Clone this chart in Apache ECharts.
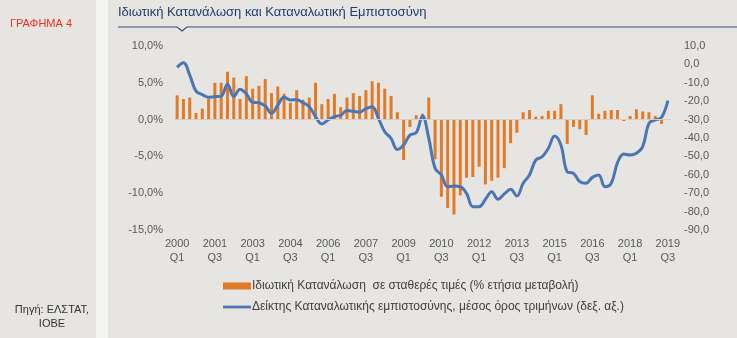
<!DOCTYPE html>
<html>
<head>
<meta charset="utf-8">
<script src="https://cdn.jsdelivr.net/npm/echarts@6/dist/echarts.min.js"></script>
<style>
  html, body { margin: 0; padding: 0; }
  #chart { width: 737px; height: 338px; }
</style>
</head>
<body>
<div id="chart"></div>
<script>
// quarters 2000Q1 .. 2019Q3
var years = [2000, 2001, 2002, 2003, 2004, 2005, 2006, 2007, 2008, 2009,
  2010, 2011, 2012, 2013, 2014, 2015, 2016, 2017, 2018, 2019]
var quarters = ['Q1', 'Q2', 'Q3', 'Q4']
var categories = []
years.forEach(function (y) {
  quarters.forEach(function (q) {
    if (y === 2019 && q === 'Q4') return
    categories.push(y + '\n' + q)
  })
})

// private consumption, constant prices (% y/y) - left axis
var consumption = [
  3.3, 2.8, 3.0, 0.9, 1.5, 2.8, 5.0, 5.0, 6.5, 5.7,
  2.8, 5.9, 4.2, 4.6, 5.5, 3.6, 4.5, 3.5, 2.3, 4.0,
  2.7, 3.0, 5.0, 2.1, 2.8, 3.5, 1.7, 3.0, 3.6, 3.2,
  4.0, 5.2, 5.0, 4.2, 3.2, 1.0, -5.5, -1.0, 0.6, 0.8,
  3.0, -5.4, -10.5, -12.0, -12.9, -10.3, -7.9, -7.8, -6.4, -8.8,
  -8.3, -7.9, -6.6, -3.2, -1.8, 1.0, 1.3, 0.4, 0.5, 1.2,
  1.2, 2.1, -3.3, -1.0, -1.3, -2.1, 3.3, 0.8, 1.2, 1.3,
  1.3, -0.2, 0.5, 1.4, 1.1, 1.0, 0.5, -0.6, null
]

// consumer confidence, quarterly average - right axis
var confidence = [
  -1.6, 0.9, -5.8, -14.5, -16.4, -17.9, -17.5, -17.2, -10.8, -17.5,
  -13.5, -16.1, -20.6, -20.8, -22.6, -26.6, -22.1, -17.9, -19.3, -19.2,
  -20.8, -23.0, -28.4, -32.4, -30.2, -28.4, -27.7, -25.1, -25.5, -25.9,
  -24.1, -23.0, -29.3, -36.6, -40.2, -46.2, -43.8, -38.4, -37.1, -28.0,
  -40.2, -56.5, -60.1, -66.5, -66.1, -66.5, -70.1, -77.3, -77.3, -73.3,
  -69.2, -73.3, -70.4, -67.9, -71.5, -64.6, -60.1, -52.0, -50.2, -45.6,
  -38.9, -43.8, -58.3, -59.2, -63.7, -64.6, -61.4, -60.1, -66.5, -64.6,
  -53.4, -48.7, -49.2, -48.3, -44.7, -32.0, -30.2, -28.8, -19.7
]

var leftTicks = { min: -15, max: 10, interval: 5 }
var rightTicks = { min: -90, max: 10, interval: 10 }

var nameBar = 'Ιδιωτική Κατανάλωση  σε σταθερές τιμές (% ετήσια μεταβολή)'
var nameLine = 'Δείκτης Καταναλωτικής εμπιστοσύνης, μέσος όρος τριμήνων (δεξ. αξ.)'

var labelColor = '#595959'
var fontMain = 'Liberation Sans, Arial, sans-serif'

var myChart = echarts.init(document.getElementById('chart'))
myChart.setOption({
  backgroundColor: '#e6e5e1',
  animation: false,
  graphic: [
    {
      type: 'rect',
      shape: { x: 96, y: 0, width: 12, height: 338 },
      style: { fill: '#f4f4f2' },
      silent: true
    },
    {
      type: 'text',
      left: 10,
      top: 18,
      style: { text: 'ΓΡΑΦΗΜΑ 4', fill: '#e8311f', font: '11px ' + fontMain }
    },
    {
      type: 'text',
      left: 118,
      top: 6,
      style: { text: 'Ιδιωτική Κατανάλωση και Καταναλωτική Εμπιστοσύνη', fill: '#1f3d6e', font: '13px ' + fontMain }
    },
    {
      type: 'polyline',
      shape: { points: [[118, 27], [177, 27], [182, 31], [187, 27], [737, 27]] },
      style: { stroke: '#2f4f7f', lineWidth: 1.2, fill: null },
      silent: true
    },
    {
      type: 'text',
      x: 52,
      y: 303,
      style: { text: 'Πηγή: ΕΛΣΤΑΤ,\nΙΟΒΕ', fill: '#333333', font: '11px ' + fontMain, align: 'center', lineHeight: 14 }
    }
  ],
  grid: {
    left: 174,
    right: 66,
    top: 46,
    bottom: 108
  },
  legend: {
    orient: 'vertical',
    left: 218,
    top: 275,
    itemWidth: 28,
    itemHeight: 7,
    itemGap: 9,
    textStyle: {
      color: '#404040',
      fontSize: 12,
      fontFamily: 'Liberation Sans Narrow, Arial Narrow, ' + fontMain,
      padding: [0, 0, 0, -4]
    },
    data: [
      { name: nameBar, icon: 'rect' },
      { name: nameLine, icon: 'path://M0,0H30V3H0Z' }
    ]
  },
  xAxis: [
    {
      type: 'category',
      data: categories,
      axisLine: { show: false, onZero: false },
      axisTick: { show: false },
      axisLabel: {
        interval: 5,
        color: labelColor,
        fontSize: 11,
        fontFamily: fontMain,
        lineHeight: 14,
        margin: 7
      }
    }
  ],
  yAxis: [
    {
      type: 'value',
      min: leftTicks.min,
      max: leftTicks.max,
      interval: leftTicks.interval,
      splitLine: { show: false },
      axisLine: { show: false },
      axisTick: { show: false },
      axisLabel: {
        margin: 11,
        color: labelColor,
        fontSize: 11,
        fontFamily: fontMain,
        formatter: function (v) {
          return v.toFixed(1).replace('.', ',') + '%'
        }
      }
    },
    {
      type: 'value',
      position: 'right',
      min: rightTicks.min,
      max: rightTicks.max,
      interval: rightTicks.interval,
      splitLine: { show: false },
      axisLine: { show: false },
      axisTick: { show: false },
      axisLabel: {
        margin: 13,
        color: labelColor,
        fontSize: 11,
        fontFamily: fontMain,
        formatter: function (v) {
          return v.toFixed(1).replace('.', ',')
        }
      }
    }
  ],
  series: [
    {
      name: nameBar,
      type: 'bar',
      yAxisIndex: 0,
      barWidth: 3,
      itemStyle: { color: '#e07b2a' },
      markLine: {
        silent: true,
        symbol: 'none',
        label: { show: false },
        lineStyle: { color: '#d8cfc4', width: 1, type: 'solid' },
        data: [{ yAxis: 0 }]
      },
      data: consumption
    },
    {
      name: nameLine,
      type: 'line',
      yAxisIndex: 1,
      smooth: 0.4,
      symbol: 'none',
      lineStyle: { color: '#4a76b5', width: 3 },
      itemStyle: { color: '#4a76b5' },
      z: 3,
      data: confidence
    }
  ]
})
</script>
</body>
</html>
